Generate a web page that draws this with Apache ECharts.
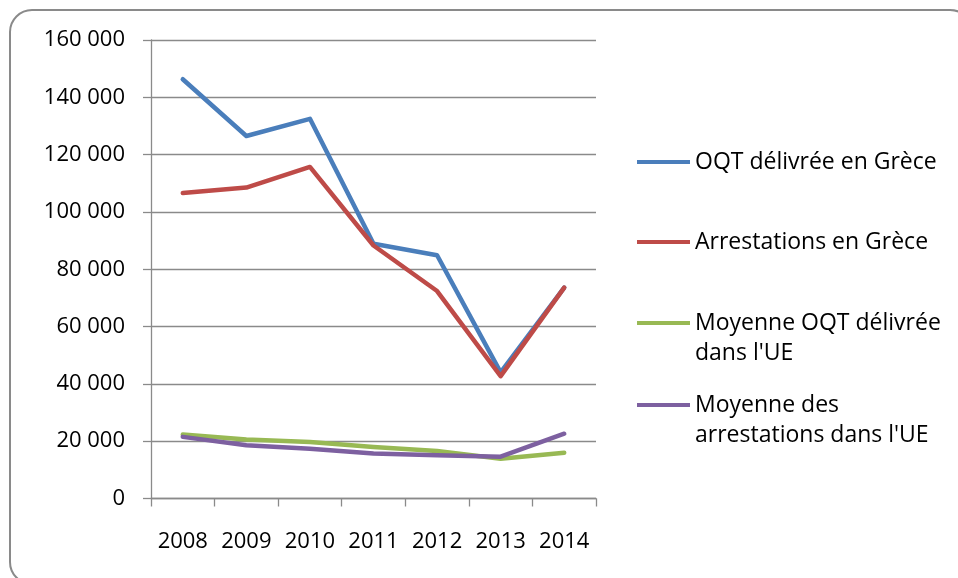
<!DOCTYPE html>
<html>
<head>
<meta charset="utf-8">
<script src="https://cdn.jsdelivr.net/npm/echarts@6/dist/echarts.min.js"></script>
<style>
  html, body { margin: 0; padding: 0; background: #fff; }
  #chart { width: 958px; height: 578px; }
</style>
</head>
<body>
<div id="chart"></div>
<script>
// Years on the category axis
const years = ['2008', '2009', '2010', '2011', '2012', '2013', '2014'];

// Series values
const oqtGrece = [146300, 126500, 132500, 88900, 84900, 44000, 73600];
const arrestationsGrece = [106600, 108500, 115700, 88300, 72400, 42700, 73600];
const moyenneOqtUE = [22300, 20600, 19700, 18000, 16600, 13900, 16000];
const moyenneArrestationsUE = [21500, 18600, 17400, 15700, 15100, 14600, 22600];

// Series names
const seriesNames = [
  'OQT délivrée en Grèce',
  'Arrestations en Grèce',
  'Moyenne OQT délivrée\ndans l\'UE',
  'Moyenne des\narrestations dans l\'UE'
];

const colors = ['#4a7ebb', '#be4b48', '#98b954', '#7d60a0'];
const FONT = '"Open Sans", "DejaVu Sans", sans-serif';
const GRID_COLOR = '#8a8a8a';

const chart = echarts.init(document.getElementById('chart'), null, { renderer: 'canvas' });

function fmt(v) {
  return String(v).replace(/\B(?=(\d{3})+(?!\d))/g, ' ');
}

// One legend block per series; two-line names get a leading blank line so
// the swatch lines up with their first line of text.
function legendFor(i, top) {
  const multi = seriesNames[i].indexOf('\n') >= 0;
  return {
    show: true,
    left: 637,
    top: top,
    padding: 0,
    orient: 'vertical',
    icon: 'rect',
    itemWidth: 53,
    itemHeight: 4,
    selectedMode: false,
    data: [seriesNames[i]],
    formatter: multi ? (name) => '\n' + name : '{name}',
    textStyle: {
      fontFamily: FONT,
      fontSize: 23,
      color: '#000',
      lineHeight: 30
    }
  };
}

const datasets = [oqtGrece, arrestationsGrece, moyenneOqtUE, moyenneArrestationsUE];

const option = {
  animation: false,
  color: colors,
  graphic: [{
    type: 'rect',
    shape: { x: 10, y: 10, width: 962, height: 574, r: 22 },
    style: { fill: 'none', stroke: '#8a8a8a', lineWidth: 2 },
    silent: true,
    z: -1
  }],
  legend: [
    legendFor(0, 147),
    legendFor(1, 227),
    legendFor(2, 278),
    legendFor(3, 360)
  ],
  grid: { left: 151, right: 362, top: 40, bottom: 79.5 },
  xAxis: {
    type: 'category',
    data: years,
    boundaryGap: true,
    axisLine: { show: true, lineStyle: { color: GRID_COLOR, width: 1.3 } },
    axisTick: { show: true, length: 8, inside: false, interval: 0, alignWithLabel: false, lineStyle: { color: GRID_COLOR, width: 1.3 } },
    axisLabel: { fontFamily: FONT, fontSize: 22, color: '#000', margin: 32, interval: 0 },
    splitLine: { show: false }
  },
  yAxis: {
    type: 'value',
    min: 0,
    max: 160000,
    interval: 20000,
    axisLine: { show: true, lineStyle: { color: GRID_COLOR, width: 1.3 } },
    axisTick: { show: true, length: 8, lineStyle: { color: GRID_COLOR, width: 1.3 } },
    axisLabel: { fontFamily: FONT, fontSize: 22, color: '#000', margin: 26, formatter: fmt },
    splitLine: { show: true, lineStyle: { color: GRID_COLOR, width: 1.3 } }
  },
  series: datasets.map((d, i) => ({
    name: seriesNames[i],
    type: 'line',
    data: d,
    showSymbol: false,
    symbol: 'none',
    lineStyle: { width: 4.5, color: colors[i], cap: 'round', join: 'round' },
    itemStyle: { color: colors[i] },
    z: 2 + i
  }))
};

chart.setOption(option);
</script>
</body>
</html>
